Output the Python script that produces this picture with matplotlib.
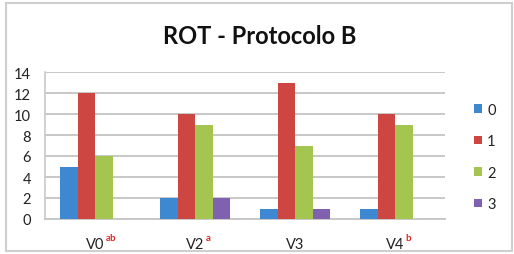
import numpy as np
import matplotlib
matplotlib.use("Agg")
import matplotlib.pyplot as plt
from matplotlib.patches import Rectangle
from matplotlib.transforms import blended_transform_factory

categories = ["V0", "V2", "V3", "V4"]
superscripts = ["ab", "a", "", "b"]
series_names = ["0", "1", "2", "3"]
s0 = [5, 2, 1, 1]
s1 = [12, 10, 13, 10]
s2 = [6, 9, 7, 9]
s3 = [0, 2, 1, 0]
colors = ["#3E88D1", "#CE4641", "#A4C54F", "#8061B0"]

plt.rcParams['font.family'] = ['Lato', 'DejaVu Sans']

fig = plt.figure(figsize=(5.14, 2.55), dpi=100)
ax = fig.add_axes([45 / 514, 35 / 255, 400 / 514, 147 / 255])

x = np.arange(len(categories))
w = 0.175
for i, vals in enumerate([s0, s1, s2, s3]):
    ax.bar(x + (i - 1.5) * w, vals, width=w, color=colors[i],
           label=series_names[i], zorder=3)

ax.set_xlim(-0.5, 3.5)
ax.set_ylim(0, 14)
ax.set_yticks(range(0, 15, 2))
ax.yaxis.grid(True, color="#C8C8C8", linewidth=1.4, zorder=0)
ax.set_axisbelow(True)
for side in ["top", "right"]:
    ax.spines[side].set_visible(False)
ax.spines["left"].set_color("#C8C8C8")
ax.spines["bottom"].set_color("#C8C8C8")
ax.spines["left"].set_linewidth(1.2)
ax.spines["bottom"].set_linewidth(1.4)
ax.tick_params(axis="both", length=0, labelsize=10.5, colors="#222222")
ax.tick_params(axis="y", pad=10)
ax.tick_params(axis="x", pad=13)
ax.set_xticks(x)
ax.set_xticklabels(categories)

trans = blended_transform_factory(ax.transData, ax.transAxes)
for xi, sup in zip(x, superscripts):
    if sup:
        ax.annotate(sup, xy=(xi, 0), xycoords=trans, xytext=(7.5, -16.5),
                    textcoords="offset points", color="#E8231E",
                    fontsize=7, fontweight="bold", ha="left", va="bottom")

fig.text(260 / 514, 1 - 37 / 255, "ROT - Protocolo B", ha="center",
         va="center", fontsize=17, fontweight="bold", color="#111111")

leg = fig.legend(loc="center left", bbox_to_anchor=(461 / 514, 1 - 158 / 255),
                 frameon=False, fontsize=10.5, handlelength=0.55,
                 handleheight=0.55, handletextpad=0.35, labelspacing=1.2)
for t in leg.get_texts():
    t.set_color("#222222")

fig.patches.append(Rectangle((6 / 514, 3 / 255), 506 / 514, 248 / 255,
                             transform=fig.transFigure, fill=False,
                             edgecolor="#CFCFCF", linewidth=1.5))

fig.savefig("out.png", dpi=100)
